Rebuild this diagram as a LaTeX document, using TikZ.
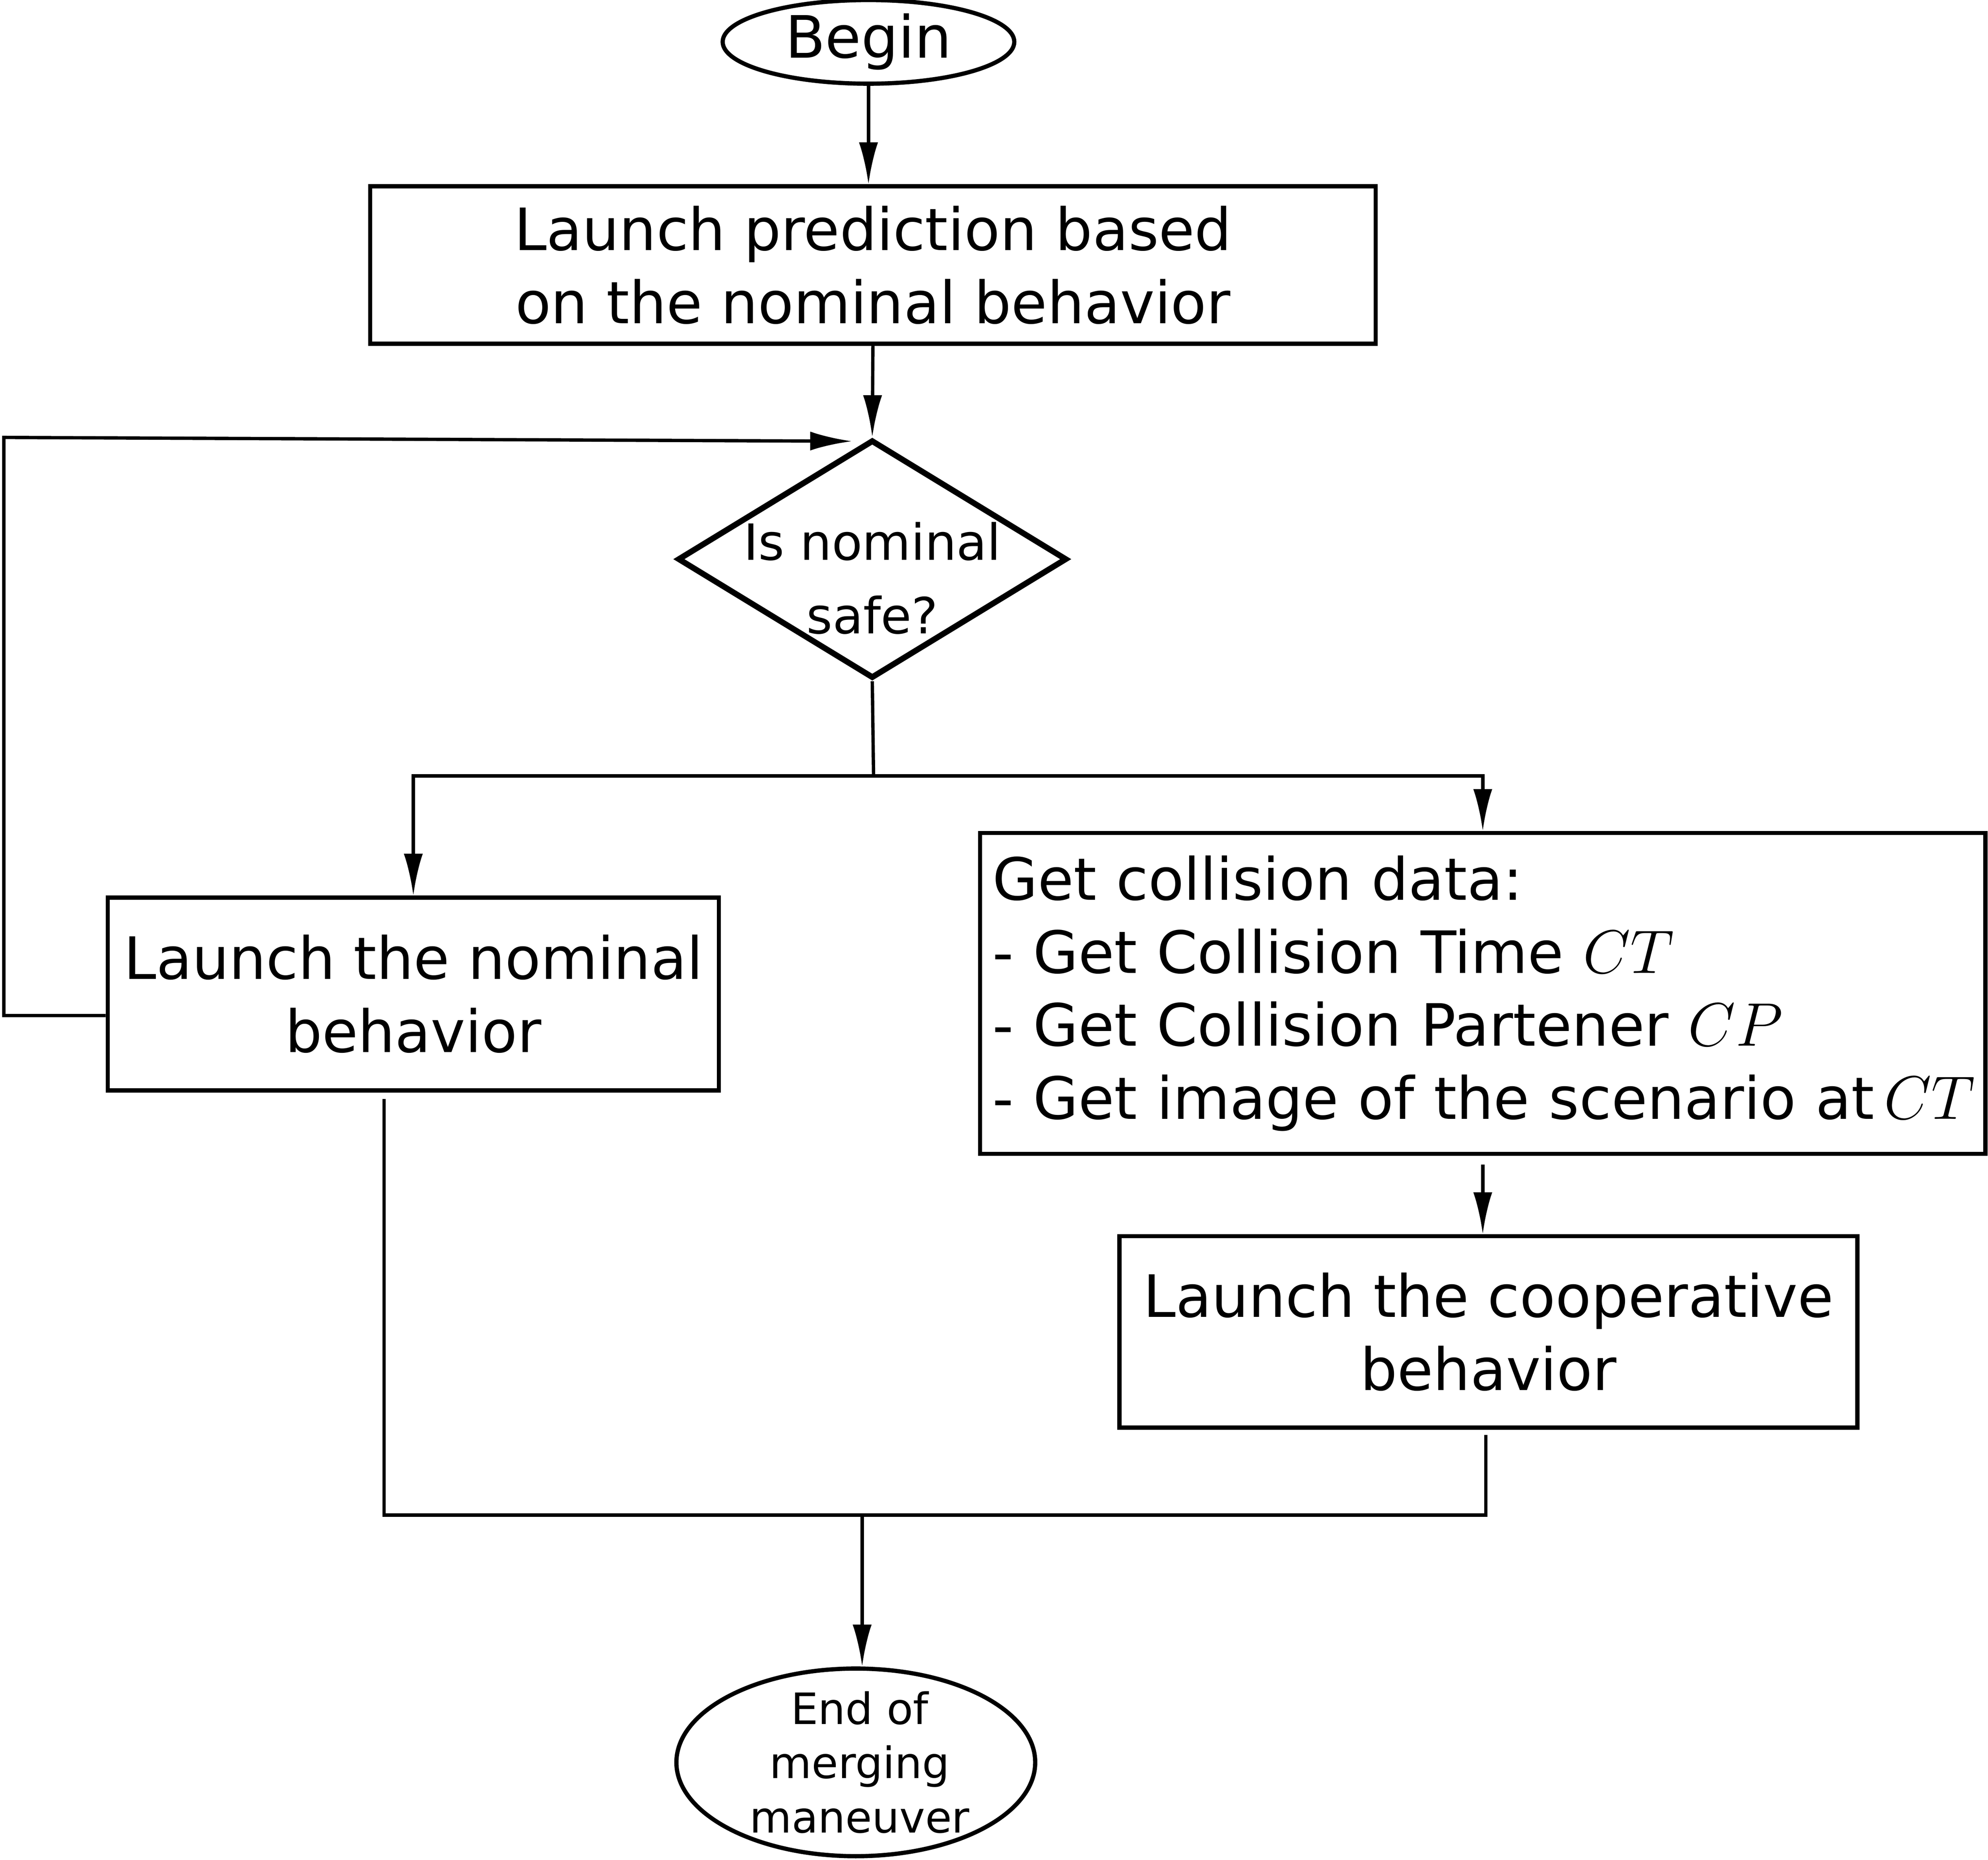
\documentclass[tikz,border=0pt]{standalone}
\usepackage{fix-cm}
\usepackage{fontspec}
\setmainfont{DejaVu Sans}
\usetikzlibrary{arrows.meta,positioning,calc,shapes.geometric}

\newcommand{\cvar}[1]{{\fontsize{13.8}{16.4}\selectfont$#1$}}

\begin{document}
\begin{tikzpicture}[x=0.1mm, y=-0.1mm,
  block/.style={rectangle, draw=black, line width=0.95pt, align=center, inner sep=0pt, font=\fontsize{13.1}{16.4}\selectfont},
  terminal/.style={ellipse, draw=black, line width=0.95pt, inner sep=0pt},
  decision/.style={diamond, draw=black, line width=1.3pt, inner sep=0pt, minimum width=30.7mm, minimum height=18.8mm},
  flow/.style={line width=0.75pt},
  flowarrow/.style={flow, -{Latex[length=3.3mm, width=1.5mm]}}]
  \useasboundingbox (0,0) rectangle (1568,1467);

  \node (begin) [terminal, minimum width=23mm, minimum height=6.6mm, font=\fontsize{13.1}{16.4}\selectfont] at (685,33) {Begin};
  \node (predict) [block, minimum width=79.3mm, minimum height=12.4mm] at (688.5,209) {Launch prediction based\\on the nominal behavior};
  \node (safe) [decision, label={[align=center, font=\fontsize{11.2}{16.5}\selectfont, yshift=-1.5mm]center:{Is nominal\\safe?}}] at (688,441) {};
  \node (nominal) [block, minimum width=48.2mm, minimum height=15.2mm] at (326,784) {Launch the nominal\\behavior};
  \node (collision) [block, minimum width=79.3mm, minimum height=25.3mm, align=left, text width=77.3mm] at (1169.5,783.5)
    {Get collision data:\\
     - Get Collision Time \cvar{CT}\\
     - Get Collision Partener \cvar{CP}\\
     \mbox{- Get image of the scenario at\,\cvar{CT}}};
  \node (coop) [block, minimum width=58.2mm, minimum height=15.1mm] at (1174,1050.5) {Launch the cooperative\\behavior};
  \node (finish) [terminal, minimum width=28.3mm, minimum height=14.8mm, label={[align=center, font=\fontsize{9.7}{12.2}\selectfont, xshift=0.3mm]center:{End of\\merging\\maneuver}}] at (675,1390) {};

  \coordinate (split) at (689,612);
  \coordinate (loopleft) at (3,801);
  \coordinate (looptop) at (3,345);
  \coordinate (loopend) at (672,348);
  \coordinate (mergeleft) at (303,1195);
  \coordinate (mergeright) at (1172,1195);
  \coordinate (merge) at (680,1195);

  \draw [flowarrow] (begin.south) -- (begin.south |- predict.north);
  \draw [flowarrow] (predict.south) -- (safe.north);
  \draw [flow] (safe.south) -- (split);
  \draw [flowarrow] (split) -| (nominal.north);
  \draw [flowarrow] (split) -| (collision.north);
  \draw [flowarrow] (nominal.west |- loopleft) -- (loopleft) -- (looptop) -- (loopend);
  \draw [flowarrow] ($(collision.south)+(0,7)$) -- (collision.south |- coop.north);
  \draw [flow] ($(nominal.south -| mergeleft)+(0,5)$) -- (mergeleft) -- (mergeright) -- ($(coop.south -| mergeright)+(0,4)$);
  \draw [flowarrow] (merge) -- (merge |- finish.north);
\end{tikzpicture}
\end{document}
